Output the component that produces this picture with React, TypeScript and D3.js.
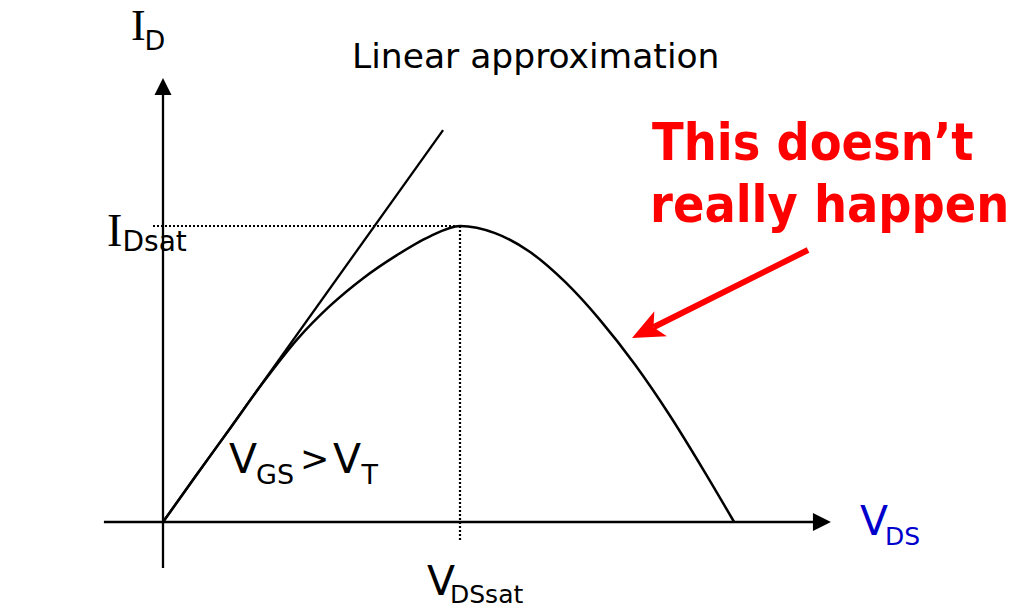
import React from "react";
import * as d3 from "d3";

// Curve (normalised: Vsat = 1, Idsat = 1)
const curveV = [0, 0.111, 0.226, 0.337, 0.451, 0.562, 0.673, 0.785, 0.899, 1, 1.118, 1.236, 1.354, 1.471, 1.589, 1.707, 1.825, 1.923];
const curveI = [0, 0.157, 0.316, 0.471, 0.616, 0.73, 0.823, 0.9, 0.965, 1, 0.976, 0.912, 0.811, 0.683, 0.532, 0.359, 0.167, 0];
// Linear approximation line
const lineV = [0, 0.943];
const lineI = [0, 1.324];
const vSat = 1;
const iDsat = 1;
// Axis extents
const xAxisExtent = [-0.199, 2.249];
const yAxisExtent = [-0.155, 1.5];

const W = 1030;
const H = 608;

export default function App() {
  const x = d3.scaleLinear().domain([0, 1]).range([163, 460]);
  const y = d3.scaleLinear().domain([0, 1]).range([522, 226]);

  const pts: [number, number][] = curveV.map((v, i) => [v, curveI[i]]);
  const curvePath = d3
    .line<[number, number]>()
    .x((d) => x(d[0]))
    .y((d) => y(d[1]))
    .curve(d3.curveMonotoneX)(pts) as string;

  const linePts: [number, number][] = lineV.map((v, i) => [v, lineI[i]]);
  const linePath = d3
    .line<[number, number]>()
    .x((d) => x(d[0]))
    .y((d) => y(d[1]))(linePts) as string;

  const x0 = x(0);
  const y0 = y(0);
  const xTip = x(xAxisExtent[1]);
  const yTip = y(yAxisExtent[1]);

  // red arrow
  const tail: [number, number] = [808, 250];
  const tip: [number, number] = [632, 338];
  const dx = tip[0] - tail[0];
  const dy = tip[1] - tail[1];
  const len = Math.hypot(dx, dy);
  const ux = dx / len;
  const uy = dy / len;
  const nx = -uy;
  const ny = ux;
  const headL = 32;
  const headW = 14;
  const notch = 24;
  const bx = tip[0] - headL * ux;
  const by = tip[1] - headL * uy;
  const head = [
    [tip[0], tip[1]],
    [bx + headW * nx, by + headW * ny],
    [tip[0] - notch * ux, tip[1] - notch * uy],
    [bx - headW * nx, by - headW * ny],
  ]
    .map((p) => p.join(","))
    .join(" ");

  const sans = "DejaVu Sans, Verdana, sans-serif";
  const serif = "Liberation Serif, Times New Roman, serif";

  return (
    <svg
      width={W}
      height={H}
      style={{ position: "absolute", left: 0, top: 0, background: "#fff" }}
      xmlns="http://www.w3.org/2000/svg"
    >
      <rect width={W} height={H} fill="#fff" />
      {/* axes */}
      <line x1={x(xAxisExtent[0])} y1={y0} x2={xTip - 16} y2={y0} stroke="#000" strokeWidth={2.3} />
      <polygon points={`${xTip},${y0} ${xTip - 18},${y0 - 9} ${xTip - 18},${y0 + 9}`} fill="#000" />
      <line x1={x0} y1={y(yAxisExtent[0])} x2={x0} y2={yTip + 14} stroke="#000" strokeWidth={2.3} />
      <polygon points={`${x0},${yTip} ${x0 - 8.5},${yTip + 17} ${x0 + 8.5},${yTip + 17}`} fill="#000" />

      {/* dotted guides */}
      <line x1={153} y1={y(iDsat)} x2={x(vSat)} y2={y(iDsat)} stroke="#000" strokeWidth={2.2} strokeDasharray="2,2" />
      <line x1={x(vSat)} y1={y(iDsat)} x2={x(vSat)} y2={y(-0.061)} stroke="#000" strokeWidth={2.2} strokeDasharray="2,2" />

      {/* linear approximation */}
      <path d={linePath} fill="none" stroke="#000" strokeWidth={2.3} />
      {/* curve */}
      <path d={curvePath} fill="none" stroke="#000" strokeWidth={2.5} />

      {/* labels */}
      <text fontFamily={sans}>
        <tspan x={131} y={40} fontFamily={serif} fontSize={44}>I</tspan>
        <tspan x={144.5} y={50} fontSize={27}>D</tspan>
      </text>

      <text x={352} y={68} fontFamily={sans} fontSize={34.5}>Linear approximation</text>

      <text fontFamily={sans}>
        <tspan x={107} y={246} fontFamily={serif} fontSize={46}>I</tspan>
        <tspan x={122.5} y={251} fontSize={28}>Dsat</tspan>
      </text>

      <text fontFamily={sans} fontSize={41}>
        <tspan x={229} y={473}>V</tspan>
        <tspan x={256} y={484} fontSize={27}>GS</tspan>
        <tspan x={300} y={471} fontSize={35}>&gt;</tspan>
        <tspan x={333} y={473}>V</tspan>
        <tspan x={361.5} y={484} fontSize={27}>T</tspan>
      </text>

      <text fontFamily={sans} fontSize={41} fill="#0000cc">
        <tspan x={860} y={535}>V</tspan>
        <tspan x={885} y={545} fontSize={25}>DS</tspan>
      </text>

      <text fontFamily={sans} fontSize={41}>
        <tspan x={427} y={595}>V</tspan>
        <tspan x={450} y={603} fontSize={25}>DSsat</tspan>
      </text>

      <text transform="translate(652,160) scale(0.893,1)" fontFamily={sans} fontWeight="bold" fontSize={52} fill="#ff0000">This doesn’t</text>
      <text transform="translate(650,222) scale(0.893,1)" fontFamily={sans} fontWeight="bold" fontSize={52} fill="#ff0000">really happen</text>

      {/* red arrow */}
      <line x1={tail[0]} y1={tail[1]} x2={tip[0] - notch * ux} y2={tip[1] - notch * uy} stroke="#ff0000" strokeWidth={6} />
      <polygon points={head} fill="#ff0000" />
    </svg>
  );
}
